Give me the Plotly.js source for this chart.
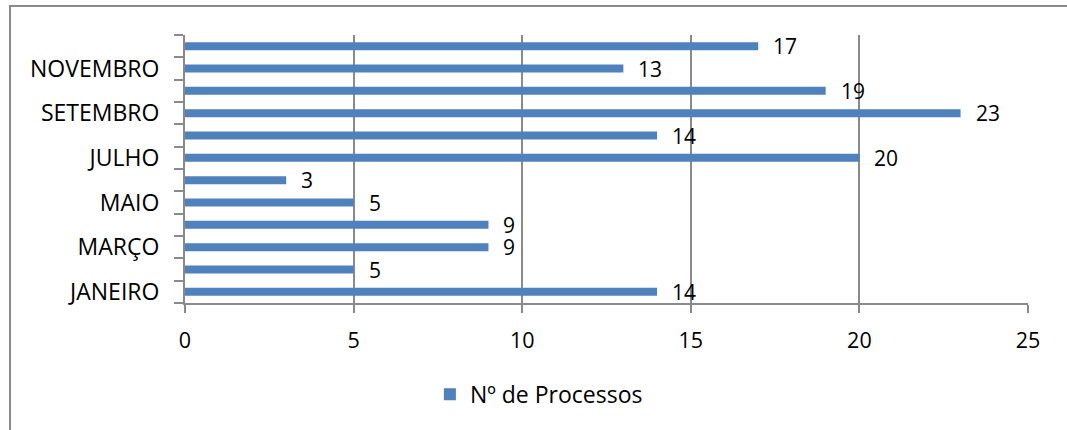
<!DOCTYPE html>
<html>
<head>
<meta charset="utf-8">
<script src="https://cdn.plot.ly/plotly-3.0.1.min.js"></script>
<style>
  html, body { margin: 0; padding: 0; background: #fff; overflow: hidden; width: 1067px; height: 430px; }
  #chart { width: 1067px; height: 430px; position: absolute; left: 0; top: 0; }
  #frame { position: absolute; left: 9px; top: 5px; width: 1056px; height: 423px;
           border-left: 2px solid #8a8a8a; border-top: 2px solid #8a8a8a; pointer-events: none; }
</style>
</head>
<body>
<div id="chart"></div>
<div id="frame"></div>
<script>
const months = ["JANEIRO","FEVEREIRO","MARÇO","ABRIL","MAIO","JUNHO","JULHO","AGOSTO","SETEMBRO","OUTUBRO","NOVEMBRO","DEZEMBRO"];
const shownLabels = ["JANEIRO","","MARÇO","","MAIO","","JULHO","","SETEMBRO","","NOVEMBRO",""];
const processos = [14, 5, 9, 9, 5, 3, 20, 14, 23, 19, 13, 17];
const seriesName = "Nº de Processos";

const font = "Open Sans, Noto Sans, sans-serif";
const fsNum = 21;
const fsCat = 23;

const trace = {
  type: "bar",
  orientation: "h",
  y: months,
  x: processos,
  name: seriesName,
  marker: { color: "#4F81BD" },
  width: 0.36,
  showlegend: true
};

const labels = processos.map((v, i) => ({
  x: v, y: months[i], xref: "x", yref: "y",
  text: String(v), showarrow: false,
  xanchor: "left", yanchor: "middle", xshift: 13, yshift: 0,
  font: { family: font, size: fsNum, color: "#000" }
}));

const layout = {
  width: 1067,
  height: 430,
  margin: { l: 185, r: 39, t: 35, b: 127, autoexpand: false },
  paper_bgcolor: "rgba(0,0,0,0)",
  plot_bgcolor: "rgba(0,0,0,0)",
  font: { family: font, size: fsNum, color: "#000" },
  annotations: labels,
  xaxis: {
    range: [0, 25],
    tickvals: [0, 5, 10, 15, 20, 25],
    ticks: "outside",
    ticklen: 8,
    tickcolor: "#8a8a8a",
    tickwidth: 2,
    showgrid: true,
    gridcolor: "#8a8a8a",
    gridwidth: 2,
    showline: true,
    linecolor: "#8a8a8a",
    linewidth: 2,
    zeroline: false,
    automargin: false,
    ticklabelstandoff: 9,
    tickfont: { family: font, size: 21.5, color: "#000" },
    fixedrange: true
  },
  yaxis: {
    type: "category",
    categoryorder: "array",
    categoryarray: months,
    range: [-0.5, 11.5],
    tickmode: "array",
    tickvals: months,
    ticktext: shownLabels,
    tickson: "boundaries",
    ticks: "outside",
    ticklen: 9,
    tickcolor: "#8a8a8a",
    tickwidth: 2,
    showgrid: false,
    showline: true,
    linecolor: "#8a8a8a",
    linewidth: 2,
    zeroline: false,
    automargin: false,
    tickfont: { family: font, size: fsCat, color: "#000" },
    ticklabelstandoff: 19,
    fixedrange: true
  },
  legend: {
    orientation: "h",
    x: 0.2905,
    xanchor: "left",
    y: -0.26,
    yanchor: "top",
    font: { family: font, size: fsCat, color: "#000" }
  },
  showlegend: true
};

Plotly.newPlot("chart", [trace], layout, { displayModeBar: false, staticPlot: true });
</script>
</body>
</html>
